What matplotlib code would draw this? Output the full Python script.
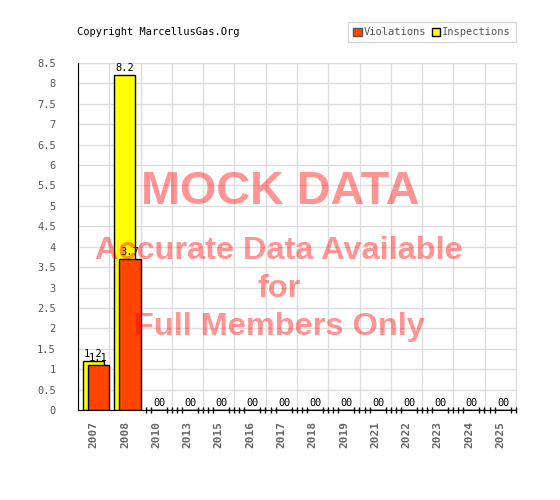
import numpy as np
import matplotlib
matplotlib.use("Agg")
import matplotlib.pyplot as plt
from matplotlib.patches import Patch

years = ["2007", "2008", "2010", "2013", "2015", "2016", "2017",
         "2018", "2019", "2021", "2022", "2023", "2024", "2025"]
inspections = [1.2, 8.2, 0, 0, 0, 0, 0, 0, 0, 0, 0, 0, 0, 0]
violations = [1.1, 3.7, 0, 0, 0, 0, 0, 0, 0, 0, 0, 0, 0, 0]

yellow = "#ffff00"
orange = "#ff4500"
mono = "DejaVu Sans Mono"

fig = plt.figure(figsize=(5.6, 5.0), dpi=100)
ax = fig.add_axes([78 / 560, 1 - 410 / 500, (516 - 78) / 560, (410 - 63) / 500])

idx = np.arange(len(years))
x_insp = idx + 0.16
x_viol = idx + 0.32
w = 0.67

ax.bar(x_insp, inspections, width=w, align="edge", color=yellow,
       edgecolor="black", linewidth=1, zorder=3)
ax.bar(x_viol, violations, width=w + 0.01, align="edge", color=orange,
       edgecolor="black", linewidth=1, zorder=4)

# value labels above bars
for xi, v in zip(x_insp + w / 2, inspections):
    ax.text(xi, v + 0.05, f"{v:g}", ha="center", va="bottom",
            fontsize=7.5, family=mono, color="black", zorder=6)
for xi, v in zip(x_viol + w / 2, violations):
    ax.text(xi, v + 0.05, f"{v:g}", ha="center", va="bottom",
            fontsize=7.5, family=mono, color="black", zorder=6)

# little edge marks where bars have zero height
for xs, vals in ((x_insp, inspections), (x_viol, violations)):
    for xi, v in zip(xs, vals):
        if v == 0:
            ax.plot([xi, xi + w], [0, 0], linestyle="none", marker="|",
                    markersize=4, color="black", mew=1, zorder=5, clip_on=False)

ax.set_xlim(0, len(years))
ax.set_ylim(0, 8.5)
ax.set_yticks(np.arange(0, 8.51, 0.5))
ax.set_yticklabels([f"{t:g}" for t in np.arange(0, 8.51, 0.5)],
                   family=mono, fontsize=7.5, color="#555555")
ax.set_xticks(idx + 0.5)
ax.set_xticklabels(years, rotation=90, family=mono, fontsize=8,
                   fontweight="bold", color="#666666")
ax.tick_params(length=0, pad=8)
ax.tick_params(axis="y", pad=16)

ax.grid(axis="y", color="#dddddd", linewidth=1, zorder=0)
for b in range(len(years) + 1):
    ax.axvline(b, color="#dddddd", linewidth=1, zorder=0)
ax.set_axisbelow(True)

for s in ("top", "right"):
    ax.spines[s].set_color("#dddddd")
for s in ("left", "bottom"):
    ax.spines[s].set_color("black")
    ax.spines[s].set_zorder(5)

fig.text(77 / 560, 1 - 32 / 500, "Copyright MarcellusGas.Org", family=mono,
         fontsize=7.5, va="center", ha="left", color="black")

handles = [Patch(facecolor=orange, edgecolor="#555555", label="Violations"),
           Patch(facecolor=yellow, edgecolor="black", label="Inspections")]
leg = fig.legend(handles=handles, loc="upper right", ncol=2,
                 bbox_to_anchor=(516 / 560, 1 - 22 / 500), fancybox=False,
                 prop={"family": mono, "size": 7.5}, handlelength=0.8,
                 handleheight=0.8, handletextpad=0.2, columnspacing=0.5,
                 borderpad=0.5, borderaxespad=0)
leg.get_frame().set_edgecolor("#cccccc")
leg.get_frame().set_linewidth(1)
for t in leg.get_texts():
    t.set_color("#555555")

# watermark
wm = dict(color="red", alpha=0.42, fontweight="bold", family="Liberation Sans",
          ha="center", va="baseline", zorder=10)
fig.text(280 / 560, 1 - 204 / 500, "MOCK DATA", fontsize=33.7, **wm)
fig.text(279 / 560, 1 - 259 / 500, "Accurate Data Available", fontsize=23.4, **wm)
fig.text(279 / 560, 1 - 297 / 500, "for", fontsize=23.4, **wm)
fig.text(279 / 560, 1 - 335 / 500, "Full Members Only", fontsize=23.4, **wm)

fig.savefig("out.png", dpi=100)
